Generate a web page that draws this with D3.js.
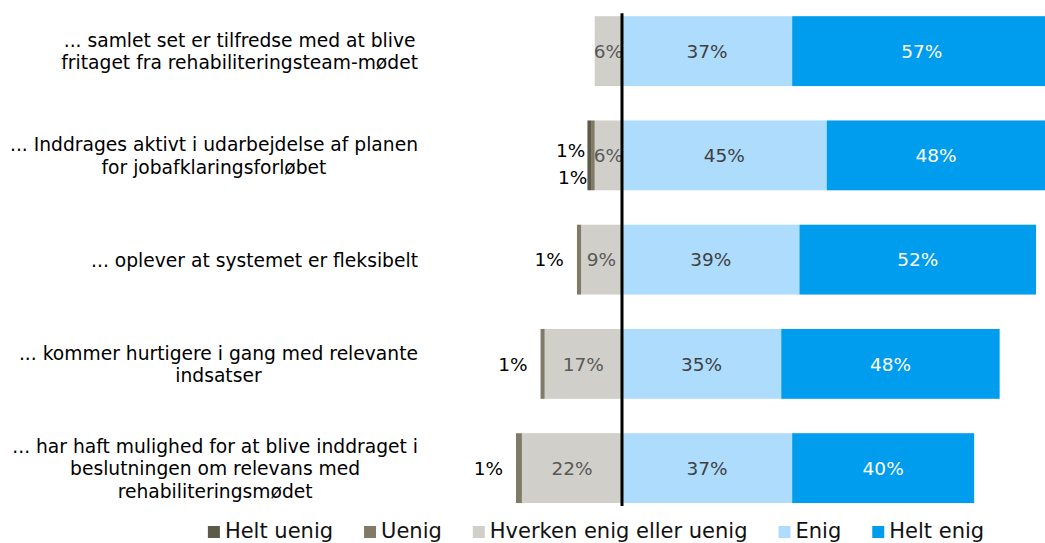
<!DOCTYPE html>
<html>
<head>
<meta charset="utf-8">
<script src="https://cdn.jsdelivr.net/npm/d3@7"></script>
<style>
  body { margin: 0; background: #fff; }
  svg { display: block; font-family: "DejaVu Sans", Verdana, sans-serif; }
</style>
</head>
<body>
<script>
// statements, one entry per row, already split in lines like the original
var categories = [
  ['... samlet set er tilfredse med at blive', 'fritaget fra rehabiliteringsteam-mødet'],
  ['... Inddrages aktivt i udarbejdelse af planen', 'for jobafklaringsforløbet'],
  ['... oplever at systemet er fleksibelt'],
  ['... kommer hurtigere i gang med relevante', 'indsatser'],
  ['... har haft mulighed for at blive inddraget i', 'beslutningen om relevans med', 'rehabiliteringsmødet']
];

var seriesNames = ['Helt uenig', 'Uenig', 'Hverken enig eller uenig', 'Enig', 'Helt enig'];

// percentages (labels are rounded to whole %)
var heltUenig = [0, 0.8, 0, 0, 0];
var uenig = [0, 0.8, 0.9, 0.9, 1.3];
var hverken = [6, 6, 9, 17, 22];
var enig = [37.4, 45, 39, 35, 37.4];
var heltEnig = [57, 48, 52, 48, 40];

var colors = ['#5e5a49', '#7f7b66', '#d0cfca', '#addcfd', '#009cee'];
var labelColors = ['#000', '#000', '#595959', '#404040', '#fff'];

var width = 1045;
var height = 543;

var svg = d3.select('body').append('svg')
  .attr('width', width)
  .attr('height', height);

var x = d3.scaleLinear().domain([-30, 100]).range([485.5, 1077]);
var y = d3.scaleBand()
  .domain(d3.range(categories.length))
  .range([-1, 520.25])
  .paddingInner(0.33)
  .paddingOuter(0.165);

var fmt = function (v) { return d3.format('.0f')(v) + '%'; };

// build segments: negatives stacked to the left of zero, positives to the right
var rows = categories.map(function (c, i) {
  var vals = [heltUenig[i], uenig[i], hverken[i], enig[i], heltEnig[i]];
  var segs = [];
  var neg = 0;
  [2, 1, 0].forEach(function (k) {
    if (vals[k] > 0) segs.push({ k: k, v: vals[k], x0: -(neg + vals[k]), x1: -neg });
    neg += vals[k];
  });
  var pos = 0;
  [3, 4].forEach(function (k) {
    if (vals[k] > 0) segs.push({ k: k, v: vals[k], x0: pos, x1: pos + vals[k] });
    pos += vals[k];
  });
  return { i: i, segs: segs, neg: neg };
});

var rowG = svg.selectAll('.row')
  .data(rows)
  .enter().append('g')
  .attr('class', 'row')
  .attr('transform', function (d) { return 'translate(0,' + y(d.i) + ')'; });

rowG.selectAll('rect')
  .data(function (d) { return d.segs; })
  .enter().append('rect')
  .attr('x', function (s) { return x(s.x0); })
  .attr('width', function (s) { return x(s.x1) - x(s.x0); })
  .attr('y', 0)
  .attr('height', y.bandwidth())
  .attr('fill', function (s) { return colors[s.k]; });

// value labels
var bh = y.bandwidth();
rowG.each(function (d) {
  var g = d3.select(this);
  var small = [];
  d.segs.forEach(function (s) {
    if (s.v >= 3) {
      g.append('text')
        .attr('x', (x(s.x0) + x(s.x1)) / 2)
        .attr('y', bh / 2)
        .attr('dy', '0.36em')
        .attr('text-anchor', 'middle')
        .attr('font-size', '18.5px')
        .attr('fill', labelColors[s.k])
        .text(fmt(s.v));
    } else {
      small.push(s);
    }
  });
  var left = x(-d.neg);
  if (small.length == 1) {
    g.append('text')
      .attr('x', left - 13)
      .attr('y', bh / 2)
      .attr('dy', '0.36em')
      .attr('text-anchor', 'end')
      .attr('font-size', '18.5px')
      .attr('fill', '#000')
      .text(fmt(small[0].v));
  } else if (small.length > 1) {
    // two tiny slices: one label above, one below
    small.sort(function (a, b) { return a.k - b.k; });
    small.forEach(function (s, j) {
      g.append('text')
        .attr('x', left - 2 + j * 2)
        .attr('y', bh / 2 + (j == 0 ? -5 : 22))
        .attr('dy', '0.36em')
        .attr('text-anchor', 'end')
        .attr('font-size', '18.5px')
        .attr('fill', '#000')
        .text(fmt(s.v));
    });
  }
});

// zero line
svg.append('line')
  .attr('x1', x(0)).attr('x2', x(0))
  .attr('y1', y(0) - 3)
  .attr('y2', y(categories.length - 1) + bh + 3)
  .attr('stroke', '#000')
  .attr('stroke-width', 3);

// category labels: lines centred, block right-aligned
var labelRight = 418;
var lineH = 22.5;
categories.forEach(function (lines, i) {
  var t = svg.append('text')
    .attr('font-size', '18.7px')
    .attr('fill', '#000')
    .attr('text-anchor', 'middle');
  var spans = lines.map(function (l, j) {
    return t.append('tspan')
      .attr('y', y(i) + bh / 2 + (j - (lines.length - 1) / 2) * lineH + 7)
      .text(l);
  });
  var maxW = d3.max(spans, function (s) { return s.node().getComputedTextLength(); });
  spans.forEach(function (s) { s.attr('x', labelRight - maxW / 2); });
});

// legend
var legend = svg.append('g');
var lx = 0;
seriesNames.forEach(function (name, k) {
  var item = legend.append('g').attr('transform', 'translate(' + lx + ',0)');
  item.append('rect')
    .attr('x', 0).attr('y', 526)
    .attr('width', 12).attr('height', 12)
    .attr('fill', colors[k]);
  var t = item.append('text')
    .attr('x', 17).attr('y', 538)
    .attr('font-size', '21px')
    .attr('fill', '#111')
    .text(name);
  lx += 17 + t.node().getComputedTextLength() + 31;
});
lx -= 31;
legend.attr('transform', 'translate(' + (596 - lx / 2) + ',0)');
</script>
</body>
</html>
